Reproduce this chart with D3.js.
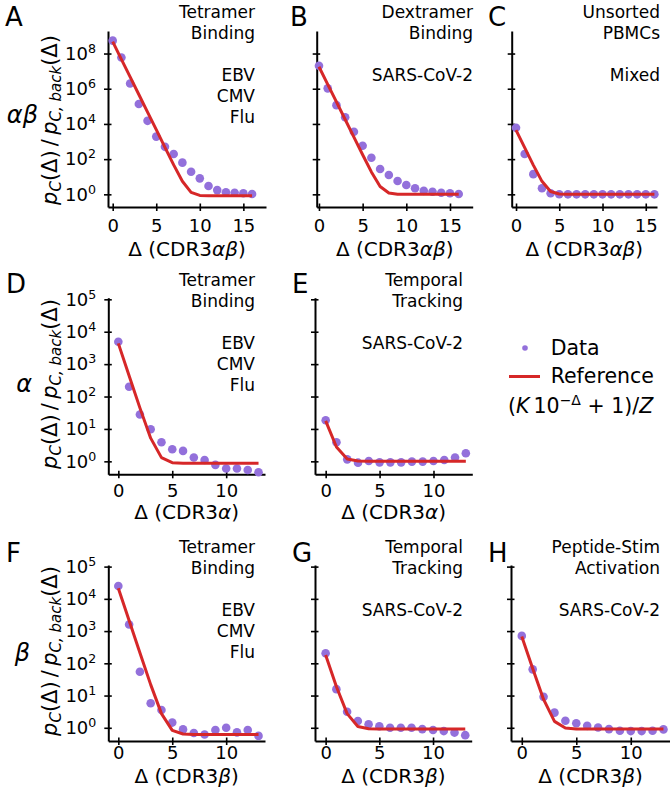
<!DOCTYPE html>
<html><head><meta charset="utf-8">
<script src="https://cdn.jsdelivr.net/npm/d3@7"></script>
<style>body{margin:0;background:#fff} svg{display:block} text{font-family:"DejaVu Sans",sans-serif;fill:#000}</style>
</head><body><svg id="c" width="670" height="795"></svg>
<script>
// ---------- data ----------
const deltaAB = [0,1,2,3,4,5,6,7,8,9,10,11,12,13,14,15,16];
const deltaSingle = [0,1,2,3,4,5,6,7,8,9,10,11,12,13];
const xTicksAB = [0,5,10,15];
const xTicksSingle = [0,5,10];
const yTicksAB = [1,1e2,1e4,1e6,1e8];
const yTicksSingle = [1,1e1,1e2,1e3,1e4,1e5];

const dataA = [5.4e8,6.0e7,2.0e6,1.35e5,1.5e4,1.9e3,500,195,63,19,8.1,2.95,1.74,1.32,1.23,1.15,1.05];
const refA  = [4.7e8,4.7e7,4.7e6,4.7e5,4.7e4,4.7e3,470,47,5.5,1.29,0.87,0.84,0.83,0.83,0.83,0.83,0.83];
const dataB = [2.0e7,1.05e6,1.17e5,2.4e4,3.6e3,575,120,27.5,12.6,5.75,3.4,2.2,1.58,1.41,1.23,1.15,1.05];
const refB  = [1.78e7,1.78e6,1.78e5,1.78e4,1.78e3,178,18.8,2.78,1.18,1.02,1,1,1,1,1,1,1];
const dataC = [6.0e3,195,14,2.2,1.15,1.02,1.0,1.0,1.0,1.0,1.0,1.0,1.0,1.0,1.0,1.0,1.0];
const refC  = [4.47e3,448,45.7,5.47,1.45,1.04,1,1,1,1,1,1,1,1,1,1,1];
const dataD = [4.9e3,200,28,9.8,3.9,2.35,2.1,1.32,1.1,0.78,0.60,0.60,0.54,0.46];
const refD  = [4.37e3,437,44.6,5.2,1.3,0.91,0.875,0.87,0.87,0.87,0.87,0.87,0.87,0.87];
const dataE = [18.6,3.9,1.15,0.91,1.02,0.93,0.93,0.93,0.98,0.98,1.02,1.1,1.32,1.78];
const refE  = [17.8,2.78,1.18,1.02,1,1,1,1,1,1,1,1,1,1];
const dataF = [2.5e4,1.6e3,55,5.75,3.55,1.45,0.89,0.69,0.62,0.85,1.0,0.72,0.85,0.56];
const refF  = [2.14e4,2.14e3,214,21.8,2.75,0.83,0.64,0.62,0.62,0.62,0.62,0.62,0.62,0.62];
const dataG = [204,15.8,3.16,1.62,1.29,1.12,1.0,1.0,1.0,0.91,0.85,0.79,0.71,0.59];
const refG  = [182,19,2.75,1.1,0.93,0.91,0.91,0.91,0.91,0.91,0.91,0.91,0.91,0.91];
const dataH = [710,65,9.1,2.95,1.66,1.38,1.15,1.02,0.91,0.81,0.79,0.79,0.81,0.89];
const refH  = [676,69,7.6,1.58,0.98,0.91,0.91,0.91,0.91,0.91,0.91,0.91,0.91,0.91];

const titleA = ["Tetramer","Binding","","EBV","CMV","Flu"];
const titleB = ["Dextramer","Binding","","SARS-CoV-2"];
const titleC = ["Unsorted","PBMCs","","Mixed"];
const titleD = ["Tetramer","Binding","","EBV","CMV","Flu"];
const titleE = ["Temporal","Tracking","","SARS-CoV-2"];
const titleF = ["Tetramer","Binding","","EBV","CMV","Flu"];
const titleG = ["Temporal","Tracking","","SARS-CoV-2"];
const titleH = ["Peptide-Stim","Activation","","SARS-CoV-2"];

// ---------- layout ----------
const DOT = "#9370db", RED = "#d62728";
const rows = [
  {top:31, bottom:207, lo:Math.pow(10,-0.72), hi:Math.pow(10,9.28), yTicks:yTicksAB, xTicks:xTicksAB,
   titleBase:18, tickBase:25, xTitleBase:256, chain:"αβ", rowLab:{x:38,y:123}, yLabCY:120, letterY:26},
  {top:297.7, bottom:474.3, lo:Math.pow(10,-0.40), hi:Math.pow(10,5.05), yTicks:yTicksSingle, xTicks:xTicksSingle,
   titleBase:286, tickBase:23, xTitleBase:519, chain:"α", rowLab:{x:32,y:392}, yLabCY:384, letterY:293},
  {top:565, bottom:741, lo:Math.pow(10,-0.41), hi:Math.pow(10,5.05), yTicks:yTicksSingle, xTicks:xTicksSingle,
   titleBase:553, tickBase:18, xTitleBase:783, chain:"β", rowLab:{x:30,y:661}, yLabCY:651, letterY:562}
];
const panels = [
  {L:"A",row:0,left:108,right:266,xmin:-0.54,xmax:17.6,delta:deltaAB,data:dataA,ref:refA,title:titleA,tx:255,lx:5,first:true},
  {L:"B",row:0,left:316.7,right:472.7,xmin:-0.26,xmax:17.6,delta:deltaAB,data:dataB,ref:refB,title:titleB,tx:473,lx:290},
  {L:"C",row:0,left:511.7,right:657,xmin:-0.5,xmax:16.3,delta:deltaAB,data:dataC,ref:refC,title:titleC,tx:660,lx:488},
  {L:"D",row:1,left:108.3,right:265,xmin:-0.93,xmax:13.6,delta:deltaSingle,data:dataD,ref:refD,title:titleD,tx:255,lx:6,first:true},
  {L:"E",row:1,left:315,right:472.3,xmin:-0.99,xmax:13.6,delta:deltaSingle,data:dataE,ref:refE,title:titleE,tx:463,lx:292},
  {L:"F",row:2,left:108.3,right:265,xmin:-0.93,xmax:13.6,delta:deltaSingle,data:dataF,ref:refF,title:titleF,tx:255,lx:6,first:true},
  {L:"G",row:2,left:315,right:471.7,xmin:-0.99,xmax:13.6,delta:deltaSingle,data:dataG,ref:refG,title:titleG,tx:463,lx:292},
  {L:"H",row:2,left:511,right:670,xmin:-0.99,xmax:13.6,delta:deltaSingle,data:dataH,ref:refH,title:titleH,tx:660,lx:488}
];

const svg = d3.select("#c");

panels.forEach(p => {
  const r = rows[p.row];
  const x = d3.scaleLinear().domain([p.xmin,p.xmax]).range([p.left,p.right]);
  const y = d3.scaleLog().domain([r.lo,r.hi]).range([r.bottom,r.top]);
  const g = svg.append("g");

  // y axis
  const ya = g.append("g").attr("transform",`translate(${p.left},0)`)
    .call(d3.axisLeft(y).tickValues(r.yTicks).tickSize(4).tickSizeOuter(0).tickPadding(8));
  ya.select(".domain").attr("stroke-width",2).attr("stroke","#000");
  ya.selectAll(".tick line").attr("x1",3.5).attr("stroke-width",1.6);
  ya.selectAll(".tick text").each(function(d){
    const t = d3.select(this);
    t.text(null);
    if (!p.first) return;
    t.attr("font-size",18).attr("font-family",'"DejaVu Sans",sans-serif');
    t.append("tspan").text("10");
    t.append("tspan").attr("dy","-0.55em").attr("font-size","0.7em").text(String(Math.round(Math.log10(d))));
  });

  // x axis
  const xa = g.append("g").attr("transform",`translate(0,${r.bottom})`)
    .call(d3.axisBottom(x).tickValues(r.xTicks).tickSize(4).tickSizeOuter(0));
  xa.select(".domain").attr("stroke-width",2).attr("stroke","#000");
  xa.selectAll(".tick line").attr("y1",-3.5).attr("stroke-width",1.6);
  xa.selectAll(".tick text").attr("y",r.tickBase).attr("dy",null)
    .attr("font-size",18).attr("font-family",'"DejaVu Sans",sans-serif');

  // data dots
  g.append("g").selectAll("circle").data(p.delta).join("circle")
    .attr("cx",d=>x(d)).attr("cy",(d,i)=>y(p.data[i])).attr("r",4.3).attr("fill",DOT);
  // reference line
  const line = d3.line().x(d=>x(d)).y((d,i)=>y(p.ref[i]));
  g.append("path").datum(p.delta).attr("d",line).attr("fill","none")
    .attr("stroke",RED).attr("stroke-width",3).attr("stroke-linejoin","round");

  // title block
  const tt = g.append("text").attr("text-anchor","end").attr("font-size",17);
  p.title.forEach((s,i)=>{
    tt.append("tspan").attr("x",p.tx).attr("y",r.titleBase+21*i).text(s);
  });

  // panel letter
  g.append("text").attr("x",p.lx).attr("y",r.letterY).attr("font-size",26).text(p.L);

  // x axis title
  const xt = g.append("text").attr("x",(p.left+p.right)/2).attr("y",r.xTitleBase)
    .attr("text-anchor","middle").attr("font-size",20);
  xt.append("tspan").text("Δ (CDR3");
  xt.append("tspan").attr("font-style","italic").text(r.chain);
  xt.append("tspan").text(")");

  if (p.first) {
    // row label
    g.append("text").attr("x",r.rowLab.x).attr("y",r.rowLab.y).attr("text-anchor","end")
      .attr("font-size",24).attr("font-style","italic").text(r.chain);
    // y label
    const yl = g.append("text").attr("transform",`translate(57,${r.yLabCY}) rotate(-90)`)
      .attr("text-anchor","middle").attr("font-size",21);
    yl.append("tspan").attr("font-style","italic").text("p");
    yl.append("tspan").attr("font-style","italic").attr("font-size",15).attr("dy",4).text("C");
    yl.append("tspan").attr("dy",-4).text("(Δ)\u2009/\u2009");
    yl.append("tspan").attr("font-style","italic").text("p");
    yl.append("tspan").attr("font-style","italic").attr("font-size",15).attr("dy",4).text("C, back");
    yl.append("tspan").attr("dy",-4).text("(Δ)");
  }
});

// legend
const lg = svg.append("g");
lg.append("circle").attr("cx",525).attr("cy",348).attr("r",2.8).attr("fill",DOT);
lg.append("text").attr("x",550.7).attr("y",355).attr("font-size",20.5).text("Data");
lg.append("line").attr("x1",509).attr("x2",540).attr("y1",376.5).attr("y2",376.5)
  .attr("stroke",RED).attr("stroke-width",3);
lg.append("text").attr("x",550.7).attr("y",383).attr("font-size",20.5).text("Reference");
const fm = lg.append("text").attr("x",508).attr("y",413).attr("font-size",20.5);
fm.append("tspan").text("(");
fm.append("tspan").attr("font-style","italic").text("K");
fm.append("tspan").text("\u200910");
fm.append("tspan").attr("dy",-8).attr("font-size",14).text("−Δ");
fm.append("tspan").attr("dy",8).text(" + 1)/");
fm.append("tspan").attr("font-style","italic").text("Z");
</script></body></html>
